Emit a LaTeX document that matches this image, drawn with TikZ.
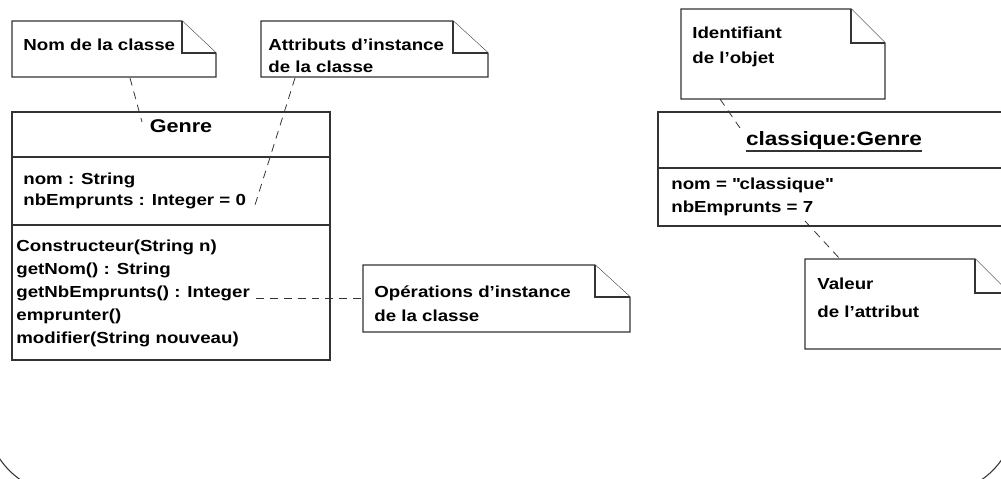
\documentclass[tikz,border=0pt]{standalone}
\usepackage{fontspec}
\setmainfont{Liberation Sans}[FakeStretch=1.17]
\newcommand\straightdq{\XeTeXglyph\XeTeXglyphindex "quotedbl"\relax}
\begin{document}
\begin{tikzpicture}[x=0.02cm,y=-0.02cm,
  line/.style={draw=black!80,line width=0.6pt},
  notebox/.style={draw=black!80,line width=0.6pt,fill=white,line join=miter},
  conn/.style={draw=black!80,line width=0.45pt,dash pattern=on 4.5pt off 3.4pt},
  txt/.style={anchor=base west,inner sep=0pt,font=\fontsize{9.1}{11}\selectfont\bfseries},
  head/.style={anchor=base,inner sep=0pt,font=\fontsize{10.5}{12}\selectfont\bfseries}]
\clip (0,0) rectangle (1001,479);
% outer frame (cropped)
\draw[line,rounded corners=1.6cm] (-14,-60) -- (-14,494) -- (1016,494) -- (1016,-60);

% ---------- Class Genre ----------
\draw[line] (12,112) rectangle (330,360);
\draw[line] (12,157) -- (330,157);
\draw[line] (12,225) -- (330,225);
\node[head] (gname) at (181,133) {Genre};
\node[txt] (a1) at (23,185) {nom : String};
\node[txt] (a2) at (23,206) {nbEmprunts : Integer = 0};
\node[txt] (o1) at (16,252) {Constructeur(String n)};
\node[txt] (o2) at (16,275) {getNom() : String};
\node[txt] (o3) at (16,298) {getNbEmprunts() : Integer};
\node[txt] (o4) at (16,321) {emprunter()};
\node[txt] (o5) at (16,344) {modifier(String nouveau)};

% ---------- Note 1 ----------
\draw[notebox] (12,21) -- (182,21) -- (216,53) -- (216,77) -- (12,77) -- cycle;
\draw[notebox] (182,21) -- (182,53) -- (216,53);
\node[txt] (n1t) at (23,51) {Nom de la classe};
\coordinate (n1b) at (130,78);
\coordinate (gtop) at (142,122);
\draw[conn] (n1b) -- (gtop);

% ---------- Note 2 ----------
\draw[notebox] (261,21) -- (453,21) -- (488,53) -- (488,77) -- (261,77) -- cycle;
\draw[notebox] (453,21) -- (453,53) -- (488,53);
\node[txt] (n2a) at (268,51) {Attributs d’instance};
\node[txt] (n2b) at (268,73) {de la classe};
\coordinate (n2bot) at (295,78);
\coordinate (aend) at (255,205);
\draw[conn] (n2bot) -- (aend);

% ---------- Note 3 ----------
\draw[notebox] (363,265) -- (595,265) -- (630,297) -- (630,332) -- (363,332) -- cycle;
\draw[notebox] (595,265) -- (595,297) -- (630,297);
\node[txt] (n3a) at (374,298) {Opérations d’instance};
\node[txt] (n3b) at (374,322) {de la classe};
\coordinate (n3l) at (363,298);
\coordinate (oend) at (256,298);
\draw[conn] (oend) -- (n3l);

% ---------- Object classique:Genre ----------
\draw[line] (658,112) rectangle (1012,226);
\draw[line] (658,168) -- (1012,168);
\node[head,font=\fontsize{11}{13}\selectfont\bfseries] (oname) at (834,146) {classique:Genre};
\draw[line,line width=0.7pt] ([yshift=-2.8pt]oname.base west) -- ([yshift=-2.8pt]oname.base east);
\node[txt] (v1) at (671,190) {nom = \straightdq classique\straightdq};
\node[txt] (v2) at (671,213) {nbEmprunts = 7};

% ---------- Note 4 ----------
\draw[notebox] (681,9) -- (851,9) -- (885,43) -- (885,99) -- (681,99) -- cycle;
\draw[notebox] (851,9) -- (851,43) -- (885,43);
\node[txt] (n4a) at (692,39) {Identifiant};
\node[txt] (n4b) at (692,64) {de l’objet};
\coordinate (n4bot) at (720,99);
\coordinate (otop) at (740,128);
\draw[conn] (n4bot) -- (otop);

% ---------- Note 5 ----------
\draw[notebox] (805,259) -- (975,259) -- (1009,293) -- (1009,349) -- (805,349) -- cycle;
\draw[notebox] (975,259) -- (975,293) -- (1009,293);
\node[txt] (n5a) at (817,290) {Valeur};
\node[txt] (n5b) at (817,318) {de l’attribut};
\coordinate (vend) at (805,221);
\coordinate (n5top) at (840,259);
\draw[conn] (vend) -- (n5top);
\end{tikzpicture}
\end{document}
